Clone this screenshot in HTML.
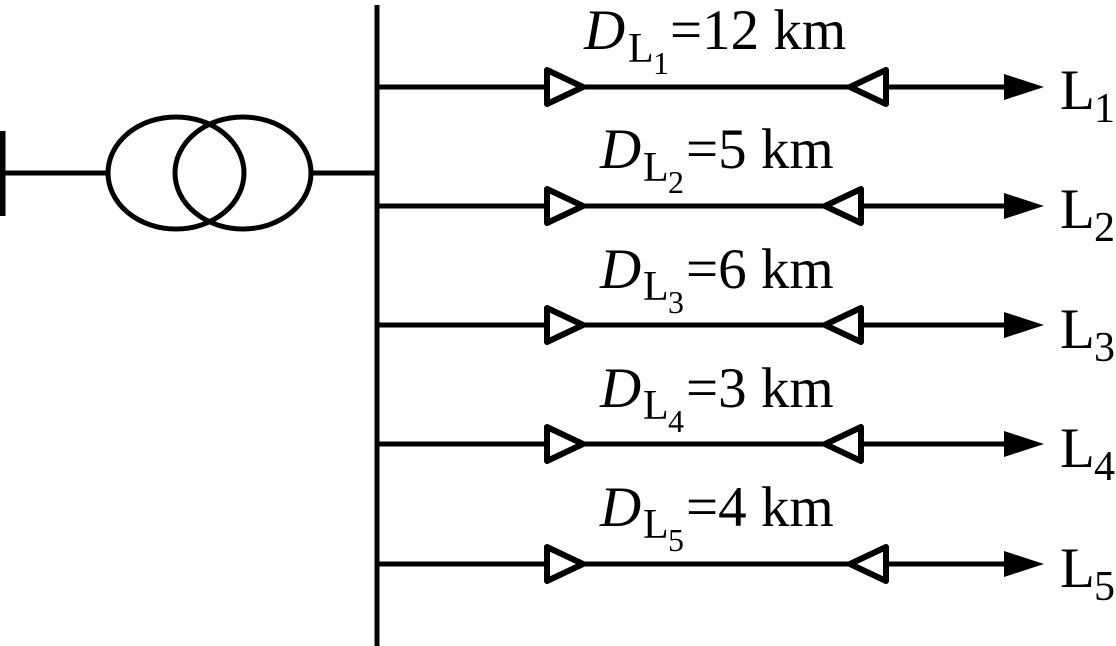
<!DOCTYPE html>
<html><head><meta charset="utf-8"><style>
html,body{margin:0;padding:0;background:#fff}
svg{display:block}
text{font-family:"Liberation Serif",serif;fill:#000}
.b{font-size:57px}.s{font-size:42px}.d{font-size:32px}.i{font-style:italic}
</style></head><body>
<svg width="1116" height="646" viewBox="0 0 1116 646" xmlns="http://www.w3.org/2000/svg">
<defs>
<g id="a"><path d="M377 0H1010" stroke="#000" stroke-width="5" fill="none"/><path d="M1004 -13L1044 0L1004 13Z" fill="#000"/><path d="M547 -17L583 0L547 17Z" fill="#fff" stroke="#000" stroke-width="6" stroke-linejoin="round"/></g>
<path id="t" d="M0 0L36 -17V17Z" fill="#fff" stroke="#000" stroke-width="6" stroke-linejoin="round"/>
</defs>
<g fill="none" stroke="#000" stroke-width="5">
<path d="M377 5V646"/>
<path d="M0 173H106M312 173H377"/>
<path d="M2.500 131V216" stroke-width="6"/>
<ellipse cx="176" cy="173" rx="68" ry="56"/>
<ellipse cx="243" cy="173" rx="68" ry="56"/>
</g>
<use href="#a" y="87"/><use href="#t" x="850" y="87"/>
<use href="#a" y="206"/><use href="#t" x="825" y="206"/>
<use href="#a" y="325"/><use href="#t" x="825" y="325"/>
<use href="#a" y="444"/><use href="#t" x="825" y="444"/>
<use href="#a" y="564"/><use href="#t" x="850" y="564"/>

<text class="b i" x="584" y="49">D</text><text class="s" x="628" y="62">L</text><text class="d" x="653" y="74">1</text><text class="b" x="670" y="49">=12 km</text>
<text class="b i" x="600" y="168">D</text><text class="s" x="643" y="181">L</text><text class="d" x="668" y="193">2</text><text class="b" x="686" y="168">=5 km</text>
<text class="b i" x="600" y="288">D</text><text class="s" x="643" y="300">L</text><text class="d" x="668" y="313">3</text><text class="b" x="686" y="288">=6 km</text>
<text class="b i" x="600" y="407">D</text><text class="s" x="643" y="419">L</text><text class="d" x="668" y="432">4</text><text class="b" x="686" y="407">=3 km</text>
<text class="b i" x="600" y="526">D</text><text class="s" x="643" y="538">L</text><text class="d" x="668" y="551">5</text><text class="b" x="686" y="526">=4 km</text>

<text class="b" x="1060" y="109">L</text><text class="s" x="1094" y="122">1</text>
<text class="b" x="1060" y="228">L</text><text class="s" x="1094" y="241">2</text>
<text class="b" x="1060" y="348">L</text><text class="s" x="1094" y="361">3</text>
<text class="b" x="1060" y="467">L</text><text class="s" x="1094" y="480">4</text>
<text class="b" x="1060" y="587">L</text><text class="s" x="1094" y="600">5</text>
</svg>
</body></html>
